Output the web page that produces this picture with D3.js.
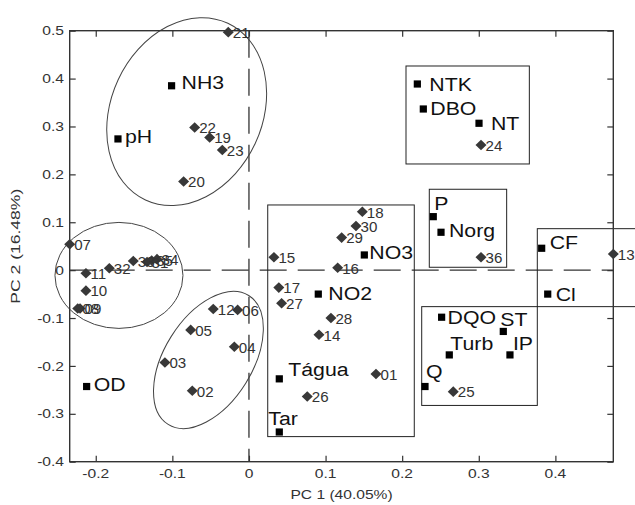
<!DOCTYPE html>
<html><head><meta charset="utf-8">
<script src="https://cdn.jsdelivr.net/npm/d3@7"></script>
<style>
html,body{margin:0;padding:0;background:#fff;}
svg{display:block;}
text{font-family:"Liberation Sans",Arial,sans-serif;}
</style></head>
<body>
<svg id="chart" width="635" height="505"></svg>
<script>
// ---- data ----
const sampleLabels = ["01","02","03","04","05","06","07","08","09","10","11","12","13","14","15","16","17","18","19","20","21","22","23","24","25","26","27","28","29","30","31","32","33","34","35","36"];
const sampleX = [0.1658,-0.074,-0.1097,-0.0191,-0.0761,-0.0148,-0.234,-0.2235,-0.2205,-0.2128,-0.2128,-0.0466,0.4756,0.0914,0.0326,0.1158,0.039,0.148,-0.0513,-0.0853,-0.027,-0.0709,-0.0348,0.3029,0.2667,0.0761,0.0426,0.107,0.121,0.1397,-0.133,-0.1823,-0.151,-0.120,-0.127,0.3029];
const sampleY = [-0.217,-0.252,-0.193,-0.160,-0.1248,-0.083,0.054,-0.080,-0.080,-0.0428,-0.0065,-0.081,0.0338,-0.135,0.027,0.005,-0.0365,0.122,0.277,0.185,0.497,0.298,0.251,0.2614,-0.2537,-0.264,-0.069,-0.100,0.068,0.0923,0.017,0.004,0.019,0.023,0.020,0.027];

const varLabels = ["NH3","pH","NTK","DBO","NT","P","Norg","CF","Cl","NO3","NO2","Tágua","Tar","OD","DQO","ST","Turb","IP","Q"];
const varX = [-0.101,-0.171,0.2198,0.2276,0.3003,0.2406,0.2507,0.3821,0.390,0.1506,0.0905,0.0396,0.0396,-0.2119,0.2515,0.332,0.2615,0.3407,0.2298];
const varY = [0.385,0.274,0.3887,0.3365,0.3067,0.1117,0.0791,0.0457,-0.050,0.0317,-0.050,-0.227,-0.338,-0.243,-0.0983,-0.128,-0.177,-0.177,-0.243];

const xTicks = [-0.2,-0.1,0,0.1,0.2,0.3,0.4];
const yTicks = [-0.4,-0.3,-0.2,-0.1,0,0.1,0.2,0.3,0.4,0.5];
const xTitle = "PC 1 (40.05%)";
const yTitle = "PC 2 (16.48%)";

// group boxes: [x0, x1, y0, y1] in data units
const boxX0 = [0.0245,0.205,0.2354,0.3764,0.2255];
const boxX1 = [0.2158,0.366,0.3364,0.53,0.3764];
const boxY0 = [-0.3476,0.2217,0.006,-0.0762,-0.2825];
const boxY1 = [0.1361,0.4263,0.1689,0.0866,-0.0762];

// group ellipses: centre in data units
const ellCX = [-0.0813,-0.1697,-0.0529];
const ellCY = [0.331,-0.011,-0.1875];

// ---- layout / style ----
const ellStyle = [{rx:75.6,ry:97.5,rot:25},{rx:64,ry:53,rot:0},{rx:44,ry:76,rot:32}];
const varOffset = {NH3:[10,-4],pH:[7,-3],NTK:[12,0],DBO:[7,-1],NT:[12,0],P:[1,-13],Norg:[8,-2],CF:[8,-6],Cl:[8,0],NO3:[5,-3],NO2:[10,-1],"Tágua":[9,-10],Tar:[-11,-14],OD:[7,-2],DQO:[6,0],ST:[-3,-12],Turb:[1,-12],IP:[3,-12],Q:[1,-15]};

const mLeft=69.7, mRight=613.3, mTop=30.7, mBottom=461.7;
const x = d3.scaleLinear().domain([-0.234,0.4756]).range([mLeft,mRight]);
const y = d3.scaleLinear().domain([-0.4,0.5]).range([mBottom,mTop]);

const svg = d3.select("#chart");
const fmt = v => (Math.abs(v)<1e-9 ? "0" : String(+v.toFixed(1)));

function stext(g, tx, ty, str, sx, opts){
  const t = g.append("text").attr("transform",`translate(${tx},${ty}) scale(${sx},1)`).text(str);
  for (const k in opts) t.attr(k, opts[k]);
  return t;
}

// dashed zero lines
svg.append("line").attr("x1",mLeft).attr("x2",mRight).attr("y1",y(0)).attr("y2",y(0))
  .attr("stroke","#333").attr("stroke-width",1.3).attr("stroke-dasharray","27,11");
svg.append("line").attr("x1",x(0)).attr("x2",x(0)).attr("y1",mTop).attr("y2",mBottom)
  .attr("stroke","#333").attr("stroke-width",1.3).attr("stroke-dasharray","27,11");

// boxes
boxX0.forEach((v,i)=>{
  svg.append("rect").attr("x",x(v)).attr("y",y(boxY1[i]))
    .attr("width",x(boxX1[i])-x(v)).attr("height",y(boxY0[i])-y(boxY1[i]))
    .attr("fill","none").attr("stroke","#222").attr("stroke-width",1);
});
// ellipses
ellCX.forEach((v,i)=>{
  const s = ellStyle[i];
  svg.append("ellipse").attr("cx",0).attr("cy",0).attr("rx",s.rx).attr("ry",s.ry)
    .attr("transform",`translate(${x(v)},${y(ellCY[i])}) rotate(${s.rot})`)
    .attr("fill","none").attr("stroke","#444").attr("stroke-width",1);
});

// frame + axes
const axG = svg.append("g");
axG.append("g").attr("transform",`translate(0,${mBottom})`)
  .call(d3.axisBottom(x).tickValues(xTicks).tickSizeInner(-6).tickSizeOuter(0).tickFormat(""));
axG.append("g").attr("transform",`translate(0,${mTop})`)
  .call(d3.axisTop(x).tickValues(xTicks).tickSizeInner(-6).tickSizeOuter(0).tickFormat(""));
axG.append("g").attr("transform",`translate(${mLeft},0)`)
  .call(d3.axisLeft(y).tickValues(yTicks).tickSizeInner(-6).tickSizeOuter(0).tickFormat(""));
axG.append("g").attr("transform",`translate(${mRight},0)`)
  .call(d3.axisRight(y).tickValues(yTicks).tickSizeInner(-6).tickSizeOuter(0).tickFormat(""));
axG.selectAll(".domain").remove();
axG.selectAll(".tick line").attr("stroke","#333").attr("stroke-width",1.2);
svg.append("rect").attr("x",mLeft).attr("y",mTop).attr("width",mRight-mLeft).attr("height",mBottom-mTop)
  .attr("fill","none").attr("stroke","#333").attr("stroke-width",1.4);

// tick labels
const lab = svg.append("g").attr("fill","#333").attr("font-size",13);
xTicks.forEach(v=> stext(lab, x(v), 478, fmt(v), 1.2, {"text-anchor":"middle"}));
yTicks.forEach(v=> stext(lab, 64, y(v)+4.6, fmt(v), 1.2, {"text-anchor":"end"}));
stext(lab, (mLeft+mRight)/2, 499, xTitle, 1.2, {"text-anchor":"middle"});
lab.append("text").attr("transform",`translate(20,${(mTop+mBottom)/2}) rotate(-90) scale(1.3,1)`)
  .attr("text-anchor","middle").attr("font-size",13.5).text(yTitle);

// sample points
const sg = svg.append("g");
sampleLabels.forEach((l,i)=>{
  const px = x(sampleX[i]), py = y(sampleY[i]);
  sg.append("path").attr("d","M0,-5.3L5.5,0L0,5.3L-5.5,0Z")
    .attr("transform",`translate(${px},${py})`).attr("fill","#383838");
});
sampleLabels.forEach((l,i)=>{
  const px = x(sampleX[i]), py = y(sampleY[i]);
  stext(sg, px+4.5, py+5.8, l, 1.08, {"font-size":14,"fill":"#333"});
});

// variable loadings
const vg = svg.append("g");
varLabels.forEach((l,i)=>{
  const px = x(varX[i]), py = y(varY[i]);
  vg.append("rect").attr("x",px-3.6).attr("y",py-3.6).attr("width",7.2).attr("height",7.2).attr("fill","#000");
  const o = varOffset[l];
  stext(vg, px+o[0], py+o[1]+6.8, l, 1.12, {"font-size":19,"fill":"#111"});
});
</script>
</body></html>
